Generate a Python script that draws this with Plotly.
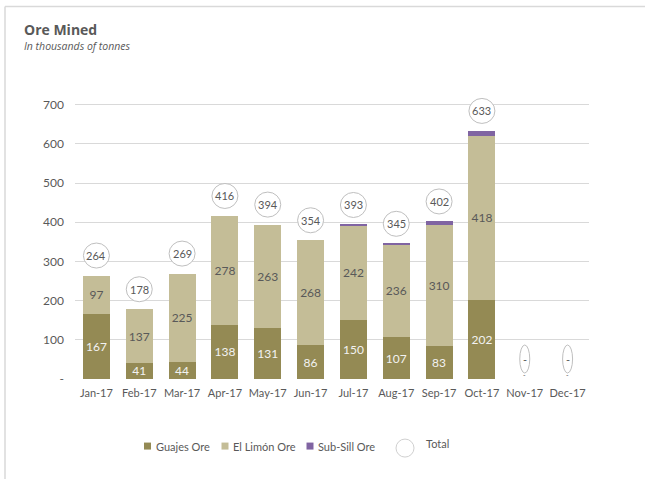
import plotly.graph_objects as go

months = ["Jan-17", "Feb-17", "Mar-17", "Apr-17", "May-17", "Jun-17",
          "Jul-17", "Aug-17", "Sep-17", "Oct-17", "Nov-17", "Dec-17"]
guajes = [167, 41, 44, 138, 131, 86, 150, 107, 83, 202, 0, 0]
el_limon = [97, 137, 225, 278, 263, 268, 242, 236, 310, 418, 0, 0]
sub_sill = [0, 0, 0, 0, 0, 0, 1, 2, 9, 13, 0, 0]
totals = [264, 178, 269, 416, 394, 354, 393, 345, 402, 633, 0, 0]
y_ticks = [0, 100, 200, 300, 400, 500, 600, 700]
y_ticktext = ["-", "100", "200", "300", "400", "500", "600", "700"]
series_names = ["Guajes Ore", "El Limón Ore", "Sub-Sill Ore"]
total_name = "Total"

FONT = "Lato"
GREY = "#595959"
COLORS = ["#948A54", "#C4BD97", "#8064A2"]

# plot area in pixels (for placing layout elements in paper coords)
PL, PR, PT, PB = 75, 589, 89.3, 379
def px(x):
    return (x - PL) / (PR - PL)
def py(y):
    return (PB - y) / (PB - PT)

def lbl(v):
    return "-" if v == 0 else str(v)

fig = go.Figure()
fig.add_trace(go.Bar(
    x=months, y=guajes, name=series_names[0], marker=dict(color=COLORS[0], line=dict(width=0)),
    text=[lbl(v) if v else "" for v in guajes], textposition="inside",
    insidetextanchor="middle", textangle=0, constraintext="none",
    textfont=dict(color="#F2F2F2", size=12, family=FONT), showlegend=False,
))
fig.add_trace(go.Bar(
    x=months, y=el_limon, name=series_names[1], marker=dict(color=COLORS[1], line=dict(width=0)),
    text=[lbl(v) if v else "" for v in el_limon], textposition="inside",
    insidetextanchor="middle", textangle=0, constraintext="none",
    textfont=dict(color=GREY, size=12, family=FONT), showlegend=False,
))
fig.add_trace(go.Bar(
    x=months, y=sub_sill, name=series_names[2], marker=dict(color=COLORS[2], line=dict(width=0)),
    textposition="none", showlegend=False,
))

shapes = []
annotations = []
for i, (m, t) in enumerate(zip(months, totals)):
    half_w = 13 if t else 5
    half_h = 12.5 if t else 14
    cy = 20
    shapes.append(dict(
        type="circle", xref="x", yref="y",
        xsizemode="pixel", ysizemode="pixel",
        xanchor=i, yanchor=t,
        x0=-half_w, x1=half_w, y0=cy - half_h, y1=cy + half_h,
        line=dict(color="#BFBFBF", width=1), fillcolor="white",
    ))
    annotations.append(dict(
        x=m, y=t, xref="x", yref="y", text=lbl(t), showarrow=False,
        yshift=cy, font=dict(color=GREY, size=11, family=FONT),
    ))
    if t == 0:
        annotations.append(dict(
            x=m, y=0, xref="x", yref="y", text="-", showarrow=False,
            yshift=4, font=dict(color=GREY, size=7, family=FONT),
        ))

# manual legend
leg_y = py(446)
for name, col, sx in zip(series_names, COLORS, [147.5, 225, 310]):
    shapes.append(dict(
        type="rect", xref="paper", yref="paper", xsizemode="pixel", ysizemode="pixel",
        xanchor=px(sx), yanchor=leg_y, x0=-3.5, x1=3.5, y0=-3.5, y1=3.5,
        fillcolor=col, line=dict(width=0),
    ))
    annotations.append(dict(
        x=px(sx + 6), y=leg_y, xref="paper", yref="paper", xanchor="left", yanchor="middle",
        text=name, showarrow=False, font=dict(color=GREY, size=11, family=FONT),
    ))
shapes.append(dict(
    type="circle", xref="paper", yref="paper", xsizemode="pixel", ysizemode="pixel",
    xanchor=px(405), yanchor=py(448), x0=-9, x1=9, y0=-9, y1=9,
    line=dict(color="#D0D0D0", width=1), fillcolor="white",
))
annotations.append(dict(
    x=px(424), y=py(443), xref="paper", yref="paper", xanchor="left", yanchor="middle",
    text=total_name, showarrow=False, font=dict(color=GREY, size=11, family=FONT),
))

# frame lines
shapes.append(dict(type="line", xref="paper", yref="paper", x0=px(5), x1=px(700),
                   y0=py(7), y1=py(7), line=dict(color="#D9D9D9", width=1.5)))
shapes.append(dict(type="line", xref="paper", yref="paper", x0=px(5), x1=px(5),
                   y0=py(7), y1=py(520), line=dict(color="#D9D9D9", width=1.5)))

annotations.append(dict(
    x=px(22), y=py(29.5), xref="paper", yref="paper", xanchor="left", yanchor="middle",
    text="<b>Ore Mined</b>", showarrow=False,
    font=dict(color=GREY, size=14, family="Open Sans"),
))
annotations.append(dict(
    x=px(22), y=py(46.5), xref="paper", yref="paper", xanchor="left", yanchor="middle",
    text="<i>In thousands of tonnes</i>", showarrow=False,
    font=dict(color=GREY, size=10.5, family="Open Sans"),
))

fig.update_layout(
    template="none",
    width=645, height=479,
    margin=dict(l=75, r=56, t=89, b=100),
    paper_bgcolor="white", plot_bgcolor="white",
    barmode="stack", bargap=0.37,
    font=dict(family=FONT, color=GREY, size=11),
    shapes=shapes, annotations=annotations,
    showlegend=False,
    xaxis=dict(showgrid=False, showline=False, ticks="", tickfont=dict(size=11, color=GREY),
               ticklabelstandoff=6,
               categoryorder="array", categoryarray=months),
    yaxis=dict(range=[0, 740], tickvals=y_ticks, ticktext=y_ticktext,
               showgrid=True, gridcolor="#D9D9D9", gridwidth=1, zeroline=False,
               showline=False, ticks="", ticklabelstandoff=10,
               tickfont=dict(size=12, color=GREY)),
)

fig.write_html("out.html")
